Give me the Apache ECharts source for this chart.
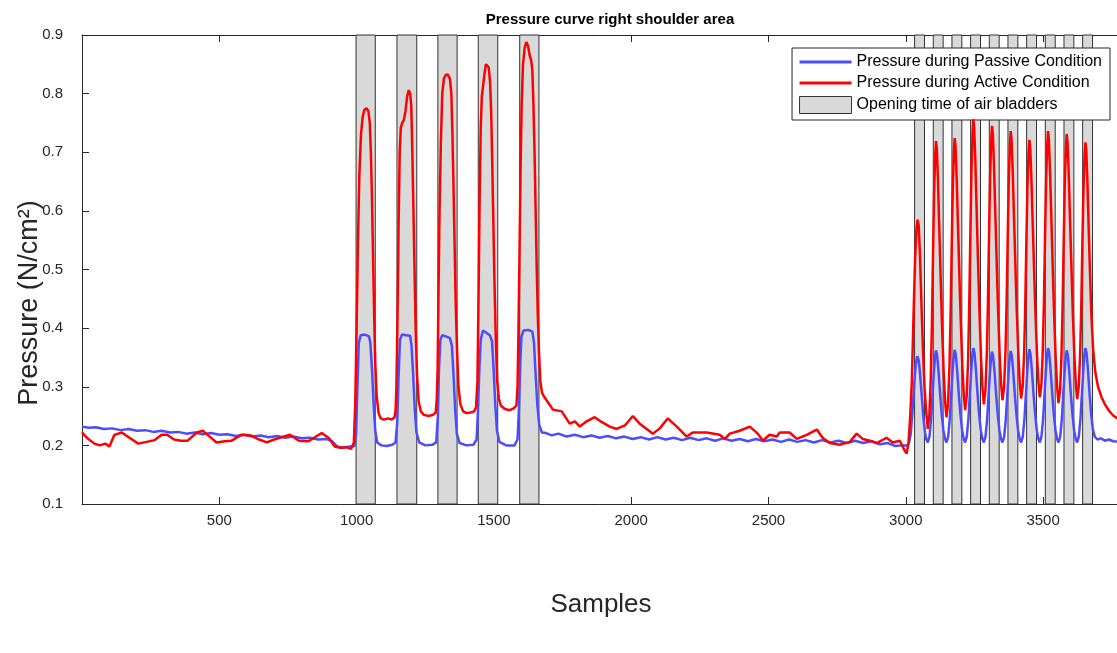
<!DOCTYPE html>
<html>
<head>
<meta charset="utf-8">
<script src="https://cdn.jsdelivr.net/npm/echarts@6/dist/echarts.min.js"></script>
<style>
  html, body { margin: 0; padding: 0; background: #fff; }
  #chart { width: 1117px; height: 653px; }
</style>
</head>
<body>
<div id="chart"></div>
<script>
// x axis range and ticks
const xMin = 0, xMax = 3780, xStep = 500;
const yMin = 0.1, yMax = 0.9, yStep = 0.1;

// opening time of the air bladders [start sample, end sample]
const bladderGroup1 = [[998, 1068], [1147, 1219], [1296, 1366], [1443, 1514], [1594, 1664]];
const bladderGroup2 = [[3032, 3068], [3100, 3136], [3168, 3204], [3236, 3272], [3304, 3340],
  [3372, 3408], [3440, 3476], [3508, 3544], [3576, 3612], [3644, 3680]];

// passive condition (blue) [sample, N/cm2]
const passiveStart = [[0,0.232],[25,0.230],[50,0.231],[80,0.228],[110,0.229],[140,0.226],[170,0.228],[200,0.225],
  [230,0.226],[260,0.223],[290,0.225],[320,0.222],[350,0.223],[380,0.220],[410,0.222],[440,0.219],[470,0.221],
  [500,0.218],[530,0.219],[560,0.216],[590,0.218],[620,0.215],[650,0.217],[680,0.214],[710,0.216],[740,0.213],
  [770,0.215],[800,0.212],[830,0.213],[860,0.210],[890,0.211],[910,0.207],[930,0.198],[950,0.196],[975,0.198],[992,0.199]];
const passiveGroup1 = [[998,0.22],[1003,0.30],[1008,0.375],[1015,0.388],[1030,0.389],[1045,0.386],[1050,0.375],
  [1056,0.33],[1062,0.27],[1068,0.225],[1075,0.205],[1090,0.200],[1110,0.199],[1130,0.201],[1142,0.205],
  [1148,0.24],[1153,0.32],[1158,0.38],[1165,0.389],[1180,0.388],[1195,0.387],[1200,0.37],[1206,0.32],[1212,0.26],
  [1218,0.222],[1228,0.205],[1250,0.200],[1275,0.201],[1290,0.205],[1296,0.25],[1300,0.33],[1305,0.38],[1312,0.388],
  [1325,0.386],[1340,0.383],[1347,0.37],[1353,0.32],[1359,0.26],[1365,0.22],[1375,0.204],[1400,0.200],[1425,0.201],
  [1437,0.21],[1442,0.26],[1447,0.33],[1452,0.38],[1460,0.396],[1470,0.393],[1485,0.388],[1493,0.378],[1499,0.33],
  [1505,0.27],[1511,0.225],[1520,0.206],[1545,0.200],[1575,0.200],[1586,0.21],[1591,0.26],[1596,0.34],[1600,0.385],
  [1608,0.396],[1625,0.397],[1640,0.394],[1646,0.375],[1652,0.32],[1658,0.27],[1665,0.235],[1675,0.222]];
const passiveMiddle = [[1690,0.221],[1710,0.217],[1735,0.220],[1765,0.215],[1795,0.218],[1825,0.214],[1855,0.217],
  [1885,0.213],[1915,0.216],[1945,0.212],[1975,0.215],[2005,0.211],[2035,0.214],[2065,0.210],[2095,0.214],[2125,0.210],
  [2155,0.213],[2185,0.209],[2215,0.213],[2245,0.209],[2275,0.212],[2305,0.208],[2335,0.212],[2365,0.208],[2395,0.211],
  [2425,0.207],[2455,0.211],[2485,0.207],[2515,0.210],[2545,0.206],[2575,0.210],[2605,0.206],[2635,0.209],[2665,0.205],
  [2695,0.209],[2725,0.205],[2755,0.208],[2785,0.204],[2815,0.208],[2845,0.204],[2875,0.207],[2905,0.202],[2935,0.204],
  [2960,0.199],[2985,0.200]];
const passiveGroup2 = [[3005,0.200],[3012,0.205],[3018,0.22],[3024,0.255],[3030,0.30],[3036,0.338],[3042,0.352],
  [3047,0.345],[3052,0.322],[3058,0.285],[3064,0.248],[3070,0.222],[3075,0.21],[3080,0.205],
  [3086,0.214],[3092,0.244],[3097,0.284],[3102,0.323],[3106,0.349],[3110,0.362],[3114,0.354],[3119,0.327],[3125,0.287],
  [3131,0.252],[3137,0.225],[3143,0.211],[3148,0.205],
  [3154,0.214],[3160,0.245],[3165,0.284],[3170,0.324],[3174,0.350],[3178,0.363],[3182,0.355],[3187,0.328],[3193,0.287],
  [3199,0.252],[3205,0.226],[3211,0.211],[3216,0.205],
  [3222,0.215],[3228,0.245],[3233,0.286],[3238,0.326],[3242,0.353],[3246,0.366],[3250,0.358],[3255,0.331],[3261,0.289],
  [3267,0.253],[3273,0.226],[3279,0.211],[3284,0.205],
  [3290,0.214],[3296,0.244],[3301,0.283],[3306,0.321],[3310,0.348],[3314,0.360],[3318,0.352],[3323,0.326],[3329,0.286],
  [3335,0.252],[3341,0.225],[3347,0.211],[3352,0.205],
  [3358,0.214],[3364,0.244],[3369,0.283],[3374,0.322],[3378,0.349],[3382,0.361],[3386,0.353],[3391,0.327],[3397,0.286],
  [3403,0.252],[3409,0.225],[3415,0.211],[3420,0.205],
  [3426,0.215],[3432,0.245],[3437,0.285],[3442,0.324],[3446,0.351],[3450,0.364],[3454,0.356],[3459,0.329],[3465,0.288],
  [3471,0.253],[3477,0.226],[3483,0.211],[3488,0.205],
  [3494,0.215],[3500,0.245],[3505,0.286],[3510,0.326],[3514,0.353],[3518,0.366],[3522,0.358],[3527,0.331],[3533,0.289],
  [3539,0.253],[3545,0.226],[3551,0.211],[3556,0.205],
  [3562,0.214],[3568,0.244],[3573,0.284],[3578,0.323],[3582,0.349],[3586,0.362],[3590,0.354],[3595,0.327],[3601,0.287],
  [3607,0.252],[3613,0.225],[3619,0.211],[3624,0.205],
  [3630,0.215],[3636,0.245],[3641,0.286],[3646,0.326],[3650,0.353],[3654,0.366],[3658,0.358],[3663,0.331],[3669,0.289],
  [3675,0.253],[3681,0.228],[3688,0.215],[3698,0.210],[3710,0.212],[3725,0.208],[3740,0.210],[3755,0.207],[3780,0.206]];

// active condition (red) [sample, N/cm2]
const activeStart = [[0,0.222],[20,0.212],[45,0.203],[65,0.200],[85,0.203],[100,0.198],[118,0.218],[145,0.222],
  [170,0.214],[205,0.203],[235,0.206],[265,0.209],[290,0.218],[310,0.218],[335,0.210],[360,0.208],[385,0.208],
  [418,0.222],[440,0.225],[465,0.215],[490,0.205],[520,0.207],[545,0.208],[580,0.218],[615,0.217],[645,0.210],
  [673,0.205],[700,0.210],[720,0.213],[757,0.218],[790,0.208],[825,0.207],[855,0.216],[873,0.221],[900,0.212],
  [920,0.198],[940,0.196],[960,0.197],[980,0.194],[987,0.196]];
const activeGroup1 = [[990,0.205],[995,0.27],[1000,0.40],[1005,0.55],[1010,0.66],[1016,0.73],[1022,0.76],[1028,0.772],
  [1036,0.775],[1043,0.77],[1048,0.75],[1052,0.70],[1056,0.62],[1060,0.52],[1064,0.42],[1068,0.34],[1073,0.285],
  [1080,0.255],[1088,0.246],[1100,0.244],[1115,0.246],[1128,0.244],[1138,0.248],
  [1142,0.26],[1145,0.30],[1149,0.42],[1153,0.58],[1157,0.70],[1161,0.742],[1166,0.75],[1172,0.755],[1178,0.77],
  [1184,0.795],[1190,0.806],[1195,0.80],[1199,0.78],[1203,0.70],[1207,0.60],[1211,0.50],[1215,0.40],[1220,0.32],
  [1226,0.275],[1234,0.258],[1245,0.252],[1262,0.250],[1278,0.252],[1288,0.256],
  [1292,0.28],[1295,0.33],[1298,0.45],[1302,0.60],[1307,0.72],[1312,0.80],[1318,0.826],[1325,0.832],[1333,0.832],
  [1340,0.825],[1345,0.80],[1349,0.73],[1353,0.64],[1357,0.54],[1361,0.44],[1366,0.36],[1371,0.30],[1378,0.27],
  [1388,0.258],[1400,0.255],[1415,0.256],[1428,0.258],[1435,0.265],
  [1440,0.31],[1444,0.45],[1448,0.62],[1452,0.74],[1456,0.795],[1461,0.815],[1466,0.835],[1471,0.85],[1476,0.853],
  [1481,0.845],[1486,0.82],[1490,0.77],[1494,0.68],[1498,0.58],[1502,0.48],[1507,0.38],[1512,0.31],[1518,0.28],
  [1525,0.268],[1540,0.262],[1558,0.260],[1572,0.263],[1582,0.268],
  [1586,0.30],[1589,0.38],[1593,0.52],[1597,0.67],[1601,0.78],[1606,0.85],[1612,0.878],[1618,0.888],[1624,0.882],
  [1630,0.866],[1636,0.856],[1640,0.84],[1644,0.78],[1648,0.70],[1652,0.60],[1656,0.50],[1660,0.42],[1664,0.36],
  [1669,0.31],[1675,0.29],[1683,0.283],[1693,0.276]];
const activeMiddle = [[1715,0.261],[1747,0.258],[1776,0.237],[1795,0.241],[1813,0.232],[1838,0.241],[1867,0.248],
  [1892,0.240],[1922,0.232],[1947,0.228],[1977,0.234],[2006,0.250],[2031,0.237],[2079,0.220],[2104,0.229],[2133,0.246],
  [2166,0.232],[2202,0.215],[2224,0.222],[2275,0.222],[2322,0.218],[2341,0.211],[2359,0.220],[2395,0.225],[2432,0.232],
  [2461,0.220],[2479,0.208],[2504,0.218],[2530,0.215],[2541,0.222],[2577,0.222],[2603,0.211],[2639,0.218],[2676,0.227],
  [2697,0.213],[2723,0.204],[2759,0.201],[2796,0.206],[2821,0.220],[2843,0.211],[2869,0.208],[2894,0.204],[2930,0.213],
  [2952,0.205],[2978,0.208],[2996,0.191]];
const activeGroup2 = [[3003,0.186],[3010,0.205],[3016,0.25],[3022,0.31],[3028,0.42],[3034,0.52],[3039,0.57],[3043,0.585],
  [3047,0.575],[3052,0.52],[3057,0.44],[3062,0.37],[3068,0.30],[3074,0.258],[3080,0.228],
  [3086,0.253],[3091,0.316],[3095,0.405],[3099,0.523],[3103,0.631],[3107,0.695],[3110,0.719],[3113,0.705],[3117,0.653],
  [3122,0.568],[3127,0.484],[3132,0.403],[3138,0.323],[3143,0.276],[3148,0.248],
  [3154,0.272],[3159,0.334],[3163,0.419],[3167,0.534],[3171,0.638],[3175,0.700],[3178,0.724],[3181,0.710],[3185,0.659],
  [3190,0.576],[3195,0.492],[3200,0.413],[3206,0.334],[3211,0.288],[3216,0.260],
  [3222,0.285],[3227,0.349],[3231,0.439],[3235,0.558],[3239,0.667],[3243,0.731],[3246,0.756],[3249,0.741],[3253,0.688],
  [3258,0.600],[3263,0.513],[3268,0.430],[3274,0.348],[3279,0.299],[3284,0.270],
  [3290,0.294],[3295,0.356],[3299,0.441],[3303,0.555],[3307,0.660],[3311,0.721],[3314,0.745],[3317,0.731],[3321,0.679],
  [3326,0.595],[3331,0.511],[3336,0.431],[3342,0.352],[3347,0.305],[3352,0.277],
  [3358,0.300],[3363,0.360],[3367,0.442],[3371,0.552],[3375,0.653],[3379,0.713],[3382,0.736],[3385,0.722],[3389,0.672],
  [3394,0.590],[3399,0.508],[3404,0.430],[3410,0.353],[3415,0.307],[3420,0.280],
  [3426,0.302],[3431,0.359],[3435,0.439],[3439,0.545],[3443,0.642],[3447,0.699],[3450,0.721],[3453,0.708],[3457,0.660],
  [3462,0.581],[3467,0.502],[3472,0.427],[3478,0.352],[3483,0.308],[3488,0.282],
  [3494,0.305],[3499,0.364],[3503,0.445],[3507,0.554],[3511,0.654],[3515,0.713],[3518,0.736],[3521,0.722],[3525,0.671],
  [3530,0.588],[3535,0.504],[3540,0.425],[3546,0.346],[3551,0.300],[3556,0.272],
  [3562,0.295],[3567,0.355],[3571,0.437],[3575,0.547],[3579,0.648],[3583,0.708],[3586,0.731],[3589,0.717],[3593,0.668],
  [3598,0.586],[3603,0.505],[3608,0.428],[3614,0.351],[3619,0.306],[3624,0.279],
  [3630,0.301],[3635,0.358],[3639,0.437],[3643,0.542],[3647,0.638],[3651,0.695],[3654,0.717],[3657,0.705],[3661,0.655],
  [3666,0.570],[3671,0.490],[3676,0.420],[3682,0.365],[3690,0.325],[3700,0.300],[3712,0.283],[3725,0.270],[3740,0.259],
  [3755,0.251],[3780,0.243]];

const axisColor = '#262626';
const fontFamily = '"Liberation Sans", Arial, Helvetica, sans-serif';
const lineIcon = 'path://M0,0 L52,0 L52,3 L0,3 Z';

const chart = echarts.init(document.getElementById('chart'));
chart.setOption({
  animation: false,
  textStyle: { fontFamily: fontFamily },
  title: {
    text: 'Pressure curve right shoulder area',
    left: 605,
    textAlign: 'center',
    top: 7,
    textStyle: { fontSize: 15, fontWeight: 'bold', color: '#000', fontFamily: fontFamily }
  },
  legend: {
    orient: 'vertical',
    right: 7,
    top: 48,
    padding: [6, 8, 6, 7],
    itemGap: 5,
    itemWidth: 52,
    itemHeight: 17,
    backgroundColor: '#fff',
    borderColor: axisColor,
    borderWidth: 1,
    textStyle: { fontSize: 16, color: '#000', fontFamily: fontFamily },
    data: [
      { name: 'Pressure during Passive Condition', icon: lineIcon },
      { name: 'Pressure during Active Condition', icon: lineIcon },
      { name: 'Opening time of air bladders', icon: 'rect',
        itemStyle: { color: '#d9d9d9', borderColor: '#333', borderWidth: 1 } }
    ]
  },
  // y axis title placed as rotated text, left of the tick labels
  graphic: [{
    type: 'text',
    x: 30,
    y: 303,
    rotation: Math.PI / 2,
    style: {
      text: 'Pressure (N/cm²)',
      fontSize: 27,
      fontFamily: fontFamily,
      fill: axisColor,
      align: 'center',
      verticalAlign: 'middle'
    }
  }],
  grid: { left: 82, right: -3, top: 35, bottom: 149, containLabel: false, outerBoundsMode: 'none' },
  xAxis: [
    {
      type: 'value', min: xMin, max: xMax, interval: xStep, position: 'bottom',
      name: 'Samples', nameLocation: 'middle', nameGap: 88,
      nameTextStyle: { fontSize: 26, color: axisColor },
      axisLine: { show: true, lineStyle: { color: axisColor, width: 1 } },
      axisTick: { show: true, inside: true, length: 7, lineStyle: { color: axisColor } },
      axisLabel: {
        color: axisColor, fontSize: 15, margin: 9, showMinLabel: false, showMaxLabel: false,
        formatter: v => (v > 0 && v % xStep === 0 ? String(v) : '')
      },
      splitLine: { show: false }
    },
    {
      type: 'value', min: xMin, max: xMax, interval: xStep, position: 'top',
      axisLine: { show: true, onZero: false, lineStyle: { color: axisColor, width: 1 } },
      axisTick: { show: true, inside: true, length: 7, lineStyle: { color: axisColor } },
      axisLabel: { show: false },
      splitLine: { show: false }
    }
  ],
  yAxis: {
    type: 'value', min: yMin, max: yMax, interval: yStep,
    axisLine: { show: true, lineStyle: { color: axisColor, width: 1 } },
    axisTick: { show: true, inside: true, length: 7, lineStyle: { color: axisColor } },
    axisLabel: { color: axisColor, fontSize: 15, margin: 19, formatter: v => v.toFixed(1) },
    splitLine: { show: false }
  },
  series: [
    {
      name: 'Opening time of air bladders',
      type: 'custom',
      z: 1,
      encode: { x: [0, 1] },
      data: bladderGroup1.concat(bladderGroup2),
      renderItem: function (params, api) {
        const a = api.coord([api.value(0), yMax]);
        const b = api.coord([api.value(1), yMin]);
        return {
          type: 'rect',
          shape: { x: a[0], y: a[1], width: b[0] - a[0], height: b[1] - a[1] },
          style: { fill: '#d9d9d9', stroke: '#333', lineWidth: 1 }
        };
      }
    },
    {
      name: 'Pressure during Passive Condition',
      type: 'line',
      z: 3,
      symbol: 'none',
      color: '#4c4cff',
      lineStyle: { width: 2.5, color: '#4c4cff' },
      data: passiveStart.concat(passiveGroup1, passiveMiddle, passiveGroup2)
    },
    {
      name: 'Pressure during Active Condition',
      type: 'line',
      z: 4,
      symbol: 'none',
      color: '#ff0000',
      lineStyle: { width: 2.5, color: '#ff0000' },
      data: activeStart.concat(activeGroup1, activeMiddle, activeGroup2)
    }
  ]
});
</script>
</body>
</html>
